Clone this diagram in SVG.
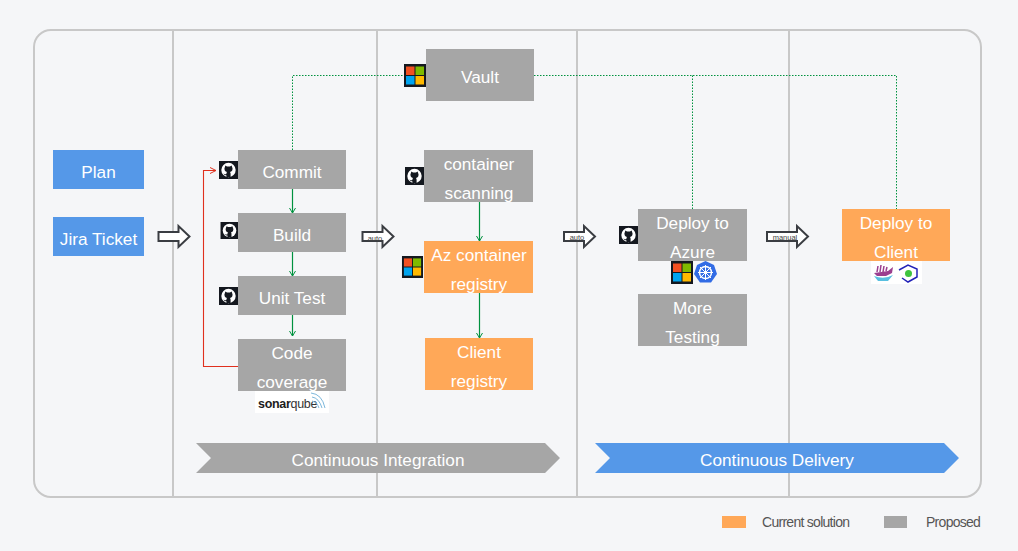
<svg xmlns="http://www.w3.org/2000/svg" width="1018" height="551" viewBox="0 0 1018 551">
<style>
text{font-family:"Liberation Sans",Arial,sans-serif}
.l{font-size:17.200px;fill:#fff;text-anchor:middle}
.g{fill:#a6a6a6}.o{fill:#ffa858}.b{fill:#5598e8}
.div{stroke:#c8c8c8;stroke-width:2;fill:none}
.dot{stroke:#00923f;stroke-width:1;stroke-dasharray:1.500 1.500;fill:none}
.sol{stroke:#00923f;stroke-width:1.200;fill:none;marker-end:url(#ga)}
.hollow{fill:#fff;stroke:#3a3d42;stroke-width:2}
.sm{font-size:7.500px;fill:#444;text-anchor:middle}
.leg{font-size:14px;fill:#555;letter-spacing:-.72px}
</style>
<defs>
<marker id="ga" markerWidth="8" markerHeight="8" refX="6" refY="4" orient="auto" markerUnits="userSpaceOnUse"><path d="M1 1L6 4L1 7" fill="none" stroke="#00923f"/></marker>
<marker id="ra" markerWidth="9" markerHeight="8" refX="7" refY="4" orient="auto" markerUnits="userSpaceOnUse"><path d="M1 1L7 4L1 7" fill="none" stroke="#e0301e"/></marker>
<symbol id="gh" viewBox="0 0 19 18" overflow="visible"><rect width="19" height="18" fill="#14181f"/><circle cx="9.500" cy="9" r="7.200" fill="#fff"/><path d="M5.800 6.200L6.400 4.600L8 5.400H11L12.600 4.600L13.200 6.200Q14 7.600 13.200 9.400Q12.300 10.800 11 10.900Q11.700 11.600 11.600 13V16H7.400V14.200Q5.400 14.600 4.400 12.600Q6 13.600 7.400 13V12.400Q7.400 11.400 8 10.900Q6.600 10.800 5.800 9.400Q5 7.600 5.800 6.200Z" fill="#14181f"/></symbol>
<symbol id="ms" viewBox="0 0 22 23"><rect width="22" height="23" fill="#14181f"/><rect x="2" y="2.500" width="8.500" height="8.500" fill="#f25022"/><rect x="11.500" y="2.500" width="8.500" height="8.500" fill="#7fba00"/><rect x="2" y="12" width="8.500" height="8.500" fill="#00a4ef"/><rect x="11.500" y="12" width="8.500" height="8.500" fill="#ffb900"/></symbol>
<path id="ha" d="M0 -4.500H20V-10.500L31 0L20 10.500V4.500H0Z"/>
</defs>
<rect width="1018" height="551" fill="#f5f6f8"/>
<g id="frame">
<rect class="div" x="34" y="30" width="947" height="467" rx="17"/>
<path class="div" d="M173 30V497M377 30V497M577 30V497M789 30V497"/>
</g>
<g id="phase-integration"><path class="g" d="M196 443H545L560 458L545 473H196L211 458Z"/><text class="l" x="378" y="466">Continuous Integration</text></g>
<g id="phase-delivery"><path class="b" d="M595 443H944L959 458L944 473H595L610 458Z"/><text class="l" x="777" y="466">Continuous Delivery</text></g>
<g id="connectors">
<path class="dot" d="M292.500 150V75.500H404M534 75.500H896.500V209M692.500 75.500V209"/>
<path class="sol" d="M292.500 189V213"/>
<path class="sol" d="M292.500 252V276"/>
<path class="sol" d="M292.500 312V336"/>
<path class="sol" d="M479.500 202V241"/>
<path class="sol" d="M479.500 293V338"/>
<path d="M238 366.500H203.500V170.500H216" fill="none" stroke="#e0301e" stroke-width="1.100" marker-end="url(#ra)"/>
<use class="hollow" href="#ha" x="158.500" y="236.500"/>
<use class="hollow" href="#ha" x="362.500" y="236.500"/>
<use class="hollow" href="#ha" x="564" y="236.500"/>
<path class="hollow" d="M767 232H797V226L808 236.500L797 247V241H767Z"/>
<text class="sm" x="375" y="241">auto</text>
<text class="sm" x="577" y="240">auto</text>
<text class="sm" x="785" y="240">manual</text>
</g>
<g id="plan"><rect class="b" x="53" y="150" width="91" height="39"/><text class="l" x="98.500" y="177.500">Plan</text></g>
<g id="jira"><rect class="b" x="53" y="217" width="91" height="39"/><text class="l" x="98.500" y="244.500">Jira Ticket</text></g>
<g id="commit"><use href="#gh" x="219" y="161" width="19" height="18"/><rect class="g" x="238" y="150" width="108" height="39"/><text class="l" x="292" y="178">Commit</text></g>
<g id="build"><use href="#gh" x="220" y="222" width="19" height="17"/><rect class="g" x="238" y="213" width="108" height="39"/><text class="l" x="292" y="241">Build</text></g>
<g id="unit-test"><use href="#gh" x="219" y="287" width="19" height="18"/><rect class="g" x="238" y="276" width="108" height="39"/><text class="l" x="292" y="304">Unit Test</text></g>
<g id="code-coverage"><rect class="g" x="238" y="339" width="108" height="52"/><text class="l" x="292" y="359">Code</text><text class="l" x="292" y="388">coverage</text>
<rect x="255" y="391" width="74" height="22" fill="#fff"/><text x="258" y="408" font-size="12.500" font-weight="bold" fill="#1c1c1c" letter-spacing="-.3">sonar<tspan font-weight="normal" fill="#333">qube</tspan></text><path d="M311 393Q322 394 325 408M312 397Q319 398 322 408M312 401Q317 402 319 408" fill="none" stroke="#7db8dc"/></g>
<g id="vault"><use href="#ms" x="404" y="64" width="22" height="23"/><rect class="g" x="426" y="49" width="108" height="52"/><text class="l" x="480" y="83">Vault</text></g>
<g id="container-scanning"><use href="#gh" x="405" y="167" width="19" height="18"/><rect class="g" x="424" y="150" width="109" height="52"/><text class="l" x="479" y="170">container</text><text class="l" x="479" y="199">scanning</text></g>
<g id="az-registry"><use href="#ms" x="401" y="256" width="23" height="22"/><rect class="o" x="424" y="241" width="109" height="52"/><text class="l" x="479" y="261">Az container</text><text class="l" x="479" y="290">registry</text></g>
<g id="client-registry"><rect class="o" x="425" y="338" width="108" height="52"/><text class="l" x="479" y="358">Client</text><text class="l" x="479" y="387">registry</text></g>
<g id="deploy-azure"><use href="#gh" x="619" y="226" width="19" height="18"/><rect class="g" x="638" y="209" width="109" height="52"/><text class="l" x="692.500" y="229">Deploy to</text><text class="l" x="692.500" y="258">Azure</text>
<use href="#ms" x="671" y="261" width="22" height="23"/><path d="M705.500 261L714 265L717 274L711 282.500H700L694 274L697 265Z" fill="#326ce5"/><circle cx="705.500" cy="272.500" r="6" fill="none" stroke="#fff" stroke-width="1.500"/><path d="M705.500 265V280M698 272.500H713M700 267L711 278M711 267L700 278" stroke="#fff"/></g>
<g id="more-testing"><rect class="g" x="638" y="294" width="109" height="52"/><text class="l" x="692.500" y="314">More</text><text class="l" x="692.500" y="343">Testing</text></g>
<g id="deploy-client"><rect class="o" x="842" y="209" width="108" height="52"/><text class="l" x="896" y="229">Deploy to</text><text class="l" x="896" y="258">Client</text>
<rect x="871" y="261" width="51" height="23" fill="#fff"/><path d="M874 273L888 271L893 267L892 273L886 276H877Z" fill="#9b3f8f"/><path d="M878 266L877 272M881 265L880 272M884 266L883 272M887 267L886 271" stroke="#9b3f8f" stroke-width="1.500"/><path d="M874 276Q884 280 893 275L888 281H878Z" fill="#58bfe0"/><path d="M899 270L908 265L917 269V277L908 282L902 278" fill="none" stroke="#2222b8" stroke-width="1.500"/><circle cx="908.500" cy="273.500" r="3.500" fill="#3fc43f"/></g>
<g id="legend"><rect class="o" x="722" y="516" width="24" height="12"/><text class="leg" x="762" y="527">Current solution</text><rect class="g" x="884" y="516" width="23" height="12"/><text class="leg" x="926" y="527">Proposed</text></g>
</svg>
